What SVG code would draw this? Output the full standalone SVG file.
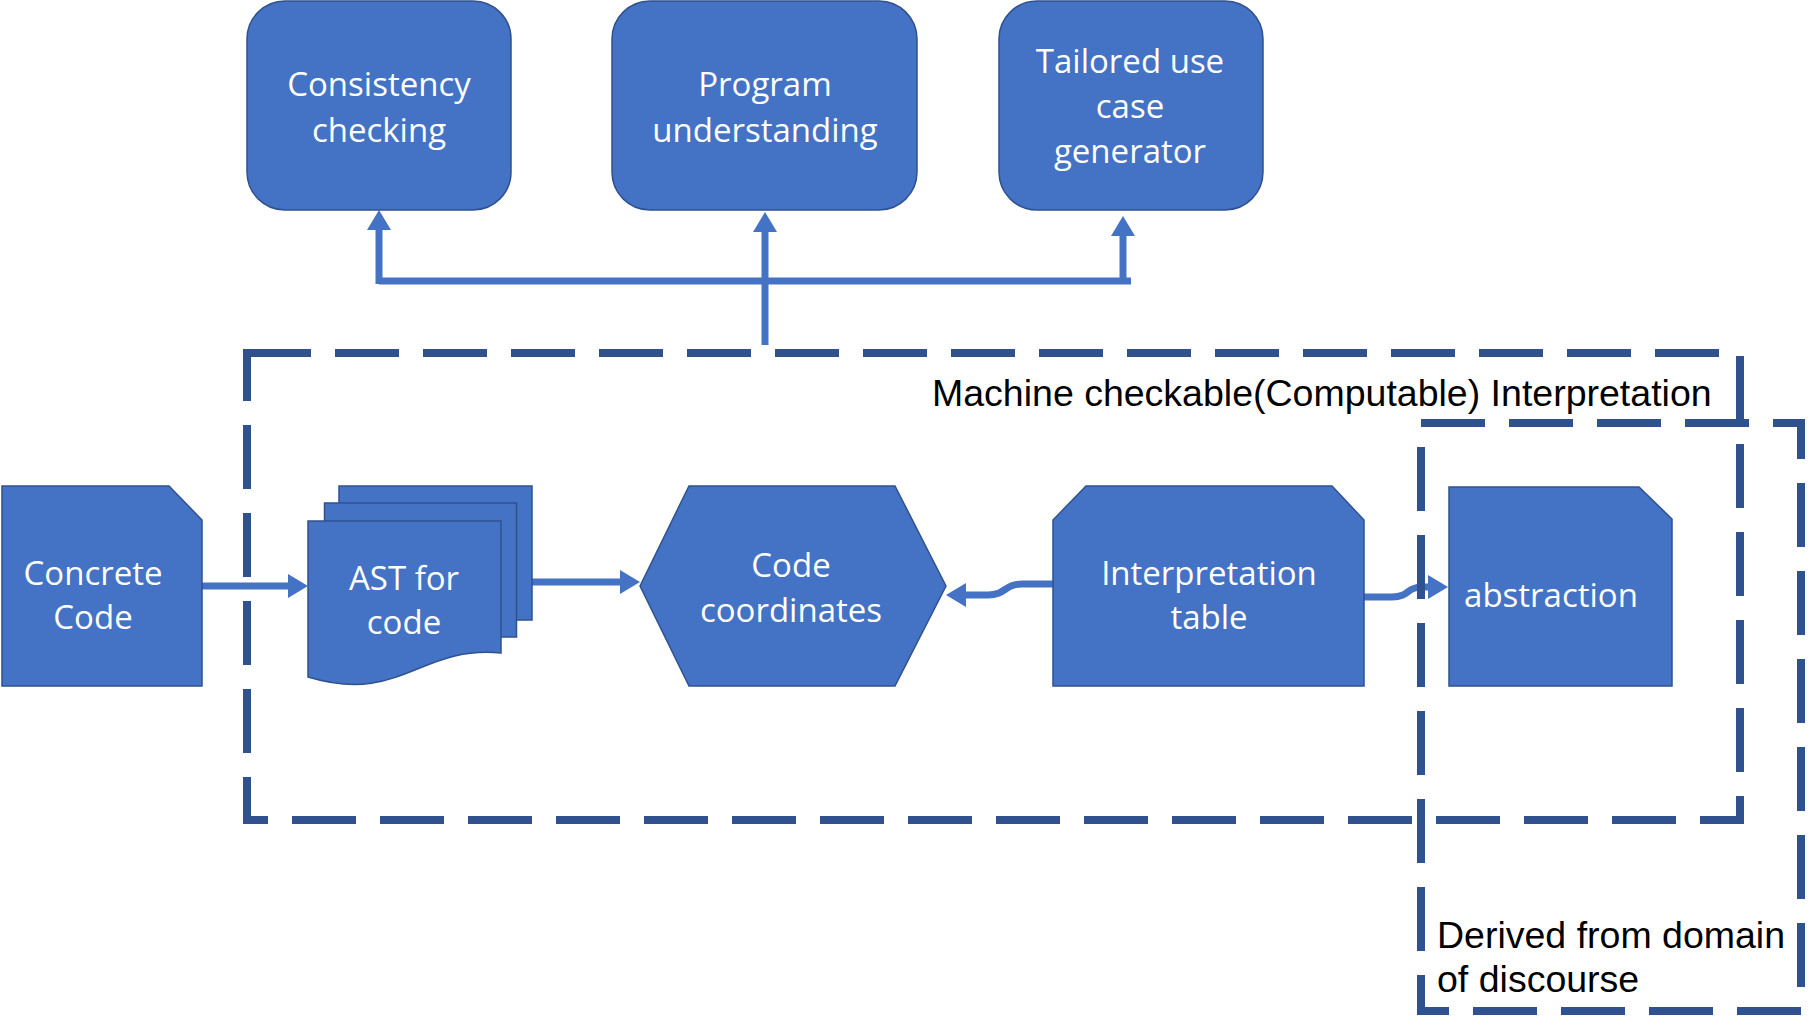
<svg xmlns="http://www.w3.org/2000/svg" width="1818" height="1026" viewBox="0 0 1818 1026">
<style>
.node{fill:#4472C4;stroke:#2F528F;stroke-width:1.5}
.lbl{font-family:"Open Sans","Noto Sans",sans-serif;font-size:33px;fill:#FFFFFF;text-anchor:middle}
.conn{fill:none;stroke:#4472C4;stroke-width:7}
.dash{fill:none;stroke:#2F528F;stroke-width:8;stroke-dasharray:64 24}
.note{font-family:"Liberation Sans",Arial,sans-serif;font-size:37.5px;fill:#000000}
</style>
<defs>
<marker id="arr" viewBox="0 0 20 24" refX="0" refY="12" markerWidth="20" markerHeight="24" markerUnits="userSpaceOnUse" orient="auto">
<path d="M0,0 L20,12 L0,24 Z" fill="#4472C4"/>
</marker>
</defs>
<rect width="1818" height="1026" fill="#FFFFFF"/>
<g id="connectors">
<path class="conn" d="M379,281 H1131"/>
<path class="conn" d="M379,284 V230" marker-end="url(#arr)"/>
<path class="conn" d="M765,345 V232" marker-end="url(#arr)"/>
<path class="conn" d="M1123,284 V236" marker-end="url(#arr)"/>
<path class="conn" d="M202,586 H288" marker-end="url(#arr)"/>
<path class="conn" d="M532,582 H620" marker-end="url(#arr)"/>
<path class="conn" d="M1053,584 H1022 C1004,584 1006,595 988,595 H966" marker-end="url(#arr)"/>
<path class="conn" d="M1364,597 H1392 C1410,597 1406,587 1422,587 H1428" marker-end="url(#arr)"/>
</g>
<g id="consistency-checking">
<rect class="node" x="247" y="1" width="264" height="209" rx="38"/>
<text class="lbl" x="379" y="96">Consistency</text>
<text class="lbl" x="379" y="142">checking</text>
</g>
<g id="program-understanding">
<rect class="node" x="612" y="1" width="305" height="209" rx="38"/>
<text class="lbl" x="765" y="96">Program</text>
<text class="lbl" x="765" y="142">understanding</text>
</g>
<g id="tailored-use-case-generator">
<rect class="node" x="999" y="1" width="264" height="209" rx="38"/>
<text class="lbl" x="1130" y="73">Tailored use</text>
<text class="lbl" x="1130" y="118">case</text>
<text class="lbl" x="1130" y="163">generator</text>
</g>
<g id="concrete-code">
<path class="node" d="M2,486 H169 L202,520 V686 H2 Z"/>
<text class="lbl" x="93" y="585">Concrete</text>
<text class="lbl" x="93" y="629">Code</text>
</g>
<g id="ast-for-code">
<rect class="node" x="339" y="486" width="193" height="134"/>
<rect class="node" x="324.5" y="503" width="192" height="134"/>
<path class="node" d="M308,521 H501 V653 C420,645 400,705 308,677 Z"/>
<text class="lbl" x="404" y="590">AST for</text>
<text class="lbl" x="404" y="634">code</text>
</g>
<g id="code-coordinates">
<path class="node" d="M640,586 L689,486 H895 L946,586 L895,686 H689 Z"/>
<text class="lbl" x="791" y="577">Code</text>
<text class="lbl" x="791" y="622">coordinates</text>
</g>
<g id="interpretation-table">
<path class="node" d="M1086,486 H1332 L1364,520 V686 H1053 V520 Z"/>
<text class="lbl" x="1209" y="585">Interpretation</text>
<text class="lbl" x="1209" y="629">table</text>
</g>
<g id="abstraction">
<path class="node" d="M1449,487 H1639 L1672,519 V686 H1449 Z"/>
<text class="lbl" x="1551" y="607">abstraction</text>
</g>
<g id="machine-checkable-interpretation">
<rect class="dash" x="247" y="353" width="1493" height="467"/>
<text class="note" x="932" y="406">Machine checkable(Computable) Interpretation</text>
</g>
<g id="derived-from-domain">
<rect class="dash" x="1421" y="423" width="380" height="588"/>
<text class="note" x="1437" y="948">Derived from domain</text>
<text class="note" x="1437" y="992">of discourse</text>
</g>
</svg>
